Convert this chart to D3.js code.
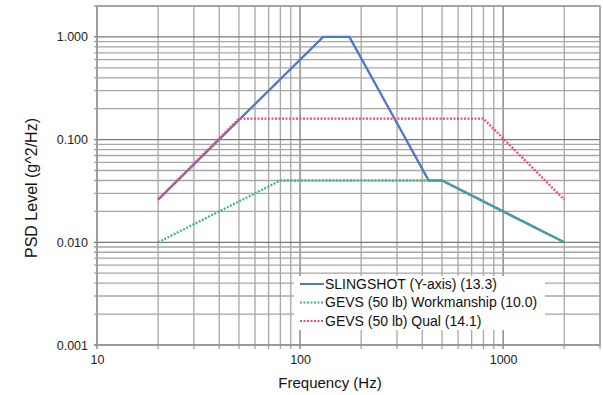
<!DOCTYPE html>
<html>
<head>
<meta charset="utf-8">
<script src="https://cdn.jsdelivr.net/npm/d3@7"></script>
<style>
  body { margin: 0; background: #fff; }
  svg { display: block; font-family: "Liberation Sans", Arial, sans-serif; }
</style>
</head>
<body>
<svg id="psd" width="603" height="395"></svg>
<script>
// PSD curves (frequency in Hz, level in g^2/Hz)
var slingFreq = [20, 130, 175, 430, 500, 2000];
var slingPsd  = [0.026, 1.0, 1.0, 0.04, 0.04, 0.01];

var workFreq = [20, 80, 500, 2000];
var workPsd  = [0.01, 0.04, 0.04, 0.01];

var qualFreq = [20, 50, 800, 2000];
var qualPsd  = [0.026, 0.16, 0.16, 0.026];

var seriesNames = ["SLINGSHOT (Y-axis) (13.3)", "GEVS (50 lb) Workmanship (10.0)", "GEVS (50 lb) Qual (14.1)"];

var xTicks = [10, 100, 1000];
var yTicks = [0.001, 0.01, 0.1, 1];
var yTickLabels = ["0.001", "0.010", "0.100", "1.000"];

var svg = d3.select("#psd");

var x = d3.scaleLog().domain([10, 3000]).range([97, 600]);
var y = d3.scaleLog().domain([0.001, 2]).range([345, 6]);

// grid lines (every 1..9 per decade)
var xGrid = [], yGrid = [];
[10, 100, 1000].forEach(function(d){
  for (var k = 1; k < 10; k++) { if (d * k <= 3000) xGrid.push(d * k); }
});
[0.001, 0.01, 0.1, 1].forEach(function(d){
  for (var k = 1; k < 10; k++) { if (d * k <= 2.0001) yGrid.push(d * k); }
});

var grid = svg.append("g").attr("class", "grid");

grid.selectAll(".vline")
  .data(xGrid)
  .enter().append("line")
  .attr("x1", function(d){ return x(d); })
  .attr("x2", function(d){ return x(d); })
  .attr("y1", y(2))
  .attr("y2", y(0.001) + 4)
  .attr("stroke", function(d){ return xTicks.indexOf(d) >= 0 ? "#7a7a7a" : "#a6a6a6"; })
  .attr("stroke-width", 1.3);

grid.selectAll(".hline")
  .data(yGrid)
  .enter().append("line")
  .attr("x1", x(10) - 3)
  .attr("x2", x(3000))
  .attr("y1", function(d){ return y(d); })
  .attr("y2", function(d){ return y(d); })
  .attr("stroke", function(d){ return yTicks.indexOf(d) >= 0 ? "#7a7a7a" : "#a6a6a6"; })
  .attr("stroke-width", 1.3);

// frame
svg.append("rect")
  .attr("x", x(10)).attr("y", y(2))
  .attr("width", x(3000) - x(10))
  .attr("height", y(0.001) - y(2))
  .attr("fill", "none")
  .attr("stroke", "#999")
  .attr("stroke-width", 1.3);

// axis labels via d3 axes, lines hidden
var xAxis = svg.append("g")
  .attr("transform", "translate(0," + y(0.001) + ")")
  .call(d3.axisBottom(x).tickValues(xTicks).tickSize(0).tickPadding(10).tickFormat(d3.format("d")));
xAxis.select(".domain").remove();
xAxis.selectAll("text").attr("font-size", 12.5).attr("fill", "#222").attr("font-family", null);

var yAxis = svg.append("g")
  .attr("transform", "translate(" + x(10) + ",0)")
  .call(d3.axisLeft(y).tickValues(yTicks).tickSize(0).tickPadding(9)
    .tickFormat(function(d, i){ return yTickLabels[i]; }));
yAxis.select(".domain").remove();
yAxis.selectAll("text").attr("font-size", 12.5).attr("fill", "#222").attr("font-family", null);

svg.append("text")
  .attr("x", 330).attr("y", 388)
  .attr("text-anchor", "middle")
  .attr("font-size", 15)
  .attr("fill", "#111")
  .text("Frequency (Hz)");

svg.append("text")
  .attr("transform", "translate(37,188) rotate(-90)")
  .attr("text-anchor", "middle")
  .attr("font-size", 16)
  .attr("fill", "#111")
  .text("PSD Level (g^2/Hz)");

var line = d3.line()
  .x(function(d){ return x(d[0]); })
  .y(function(d){ return y(d[1]); });

var series = [
  { name: seriesNames[0], pts: d3.zip(slingFreq, slingPsd), color: "#4f78c8", dash: null },
  { name: seriesNames[1], pts: d3.zip(workFreq, workPsd), color: "#3dbb78", dash: "2,1.5" },
  { name: seriesNames[2], pts: d3.zip(qualFreq, qualPsd), color: "#ee4f62", dash: "2,1.5" }
];

svg.append("g").selectAll("path")
  .data(series)
  .enter().append("path")
  .attr("d", function(d){ return line(d.pts); })
  .attr("fill", "none")
  .attr("stroke", function(d){ return d.color; })
  .attr("stroke-width", 2.3)
  .attr("stroke-dasharray", function(d){ return d.dash; });

// legend
var legend = svg.append("g");
legend.append("rect")
  .attr("x", 294).attr("y", 276)
  .attr("width", 251).attr("height", 54)
  .attr("fill", "#fff");

var item = legend.selectAll(".item")
  .data(series)
  .enter().append("g")
  .attr("transform", function(d, i){ return "translate(300," + (284 + i * 18.5) + ")"; });

item.append("line")
  .attr("x1", 0).attr("x2", 24)
  .attr("stroke", function(d){ return d.color; })
  .attr("stroke-width", 2)
  .attr("stroke-dasharray", function(d){ return d.dash; });

item.append("text")
  .attr("x", 25).attr("dy", "0.35em")
  .attr("font-size", 14)
  .attr("fill", "#111")
  .text(function(d){ return d.name; });
</script>
</body>
</html>
